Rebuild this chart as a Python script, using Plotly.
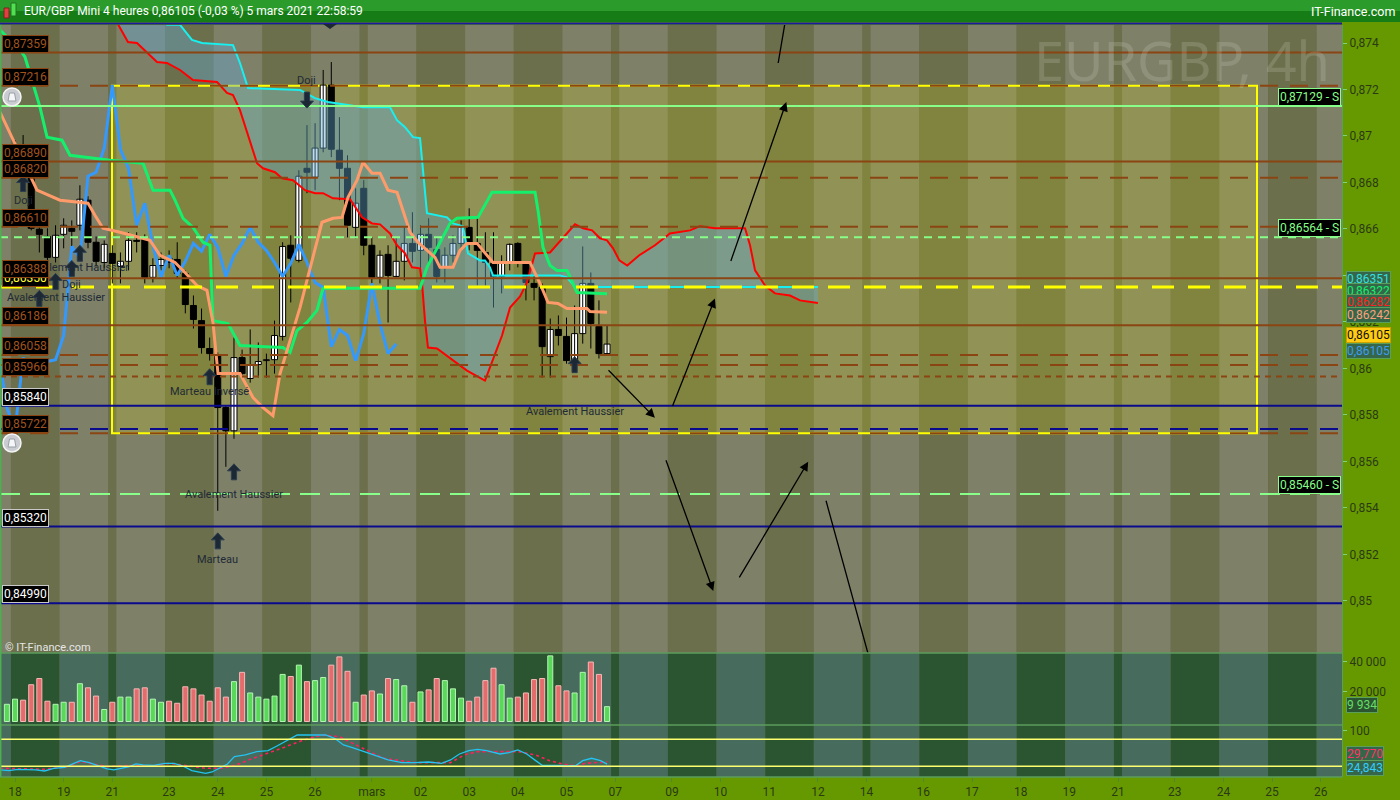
import plotly.graph_objects as go

# ---------------------------------------------------------------- data
bars = list(range(-1, 74))
opens = [0.86896, 0.86917, 0.86896, 0.86823, 0.86599, 0.86568, 0.86478, 0.86577, 0.86603, 0.86616,
         0.86724, 0.86543, 0.86456, 0.86495, 0.86439, 0.86461, 0.86551, 0.86555, 0.86392, 0.86443,
         0.86474, 0.86469, 0.86409, 0.86271, 0.86206, 0.86086, 0.86056, 0.85832, 0.85732, 0.86047,
         0.85957, 0.86017, 0.86034, 0.86038, 0.86138, 0.86530, 0.86465, 0.86861, 0.86823, 0.86948,
         0.87219, 0.86939, 0.86861, 0.86607, 0.86775, 0.86530, 0.86392, 0.86491, 0.86396, 0.86461,
         0.86538, 0.86508, 0.86577, 0.86512, 0.86435, 0.86487, 0.86538, 0.86607, 0.86538, 0.86499,
         0.86452, 0.86396, 0.86456, 0.86538, 0.86452, 0.86366, 0.86349, 0.86051, 0.86168, 0.86138,
         0.86034, 0.86150, 0.86366, 0.86181, 0.86064]
highs = [0.86939, 0.86982, 0.87004, 0.86844, 0.86629, 0.86603, 0.86616, 0.86646, 0.86637, 0.86788,
         0.86741, 0.86568, 0.86551, 0.86530, 0.86499, 0.86586, 0.86586, 0.86577, 0.86474, 0.86499,
         0.86508, 0.86543, 0.86422, 0.86314, 0.86258, 0.86133, 0.86069, 0.85840, 0.86133, 0.86081,
         0.86168, 0.86112, 0.86064, 0.86206, 0.86543, 0.86573, 0.86853, 0.87047, 0.87055, 0.87284,
         0.87318, 0.87081, 0.86917, 0.86775, 0.86810, 0.86564, 0.86508, 0.86530, 0.86564, 0.86607,
         0.86672, 0.86616, 0.86646, 0.86564, 0.86521, 0.86573, 0.86637, 0.86689, 0.86646, 0.86586,
         0.86586, 0.86487, 0.86538, 0.86543, 0.86456, 0.86400, 0.86366, 0.86215, 0.86228, 0.86219,
         0.86271, 0.86525, 0.86413, 0.86293, 0.86185]
lows = [0.86874, 0.86874, 0.86844, 0.86594, 0.86499, 0.86456, 0.86456, 0.86517, 0.86508, 0.86594,
        0.86517, 0.86439, 0.86431, 0.86366, 0.86366, 0.86422, 0.86499, 0.86366, 0.86370, 0.86422,
        0.86431, 0.86387, 0.86237, 0.86172, 0.86064, 0.86034, 0.85388, 0.85577, 0.85698, 0.85961,
        0.85939, 0.85961, 0.85961, 0.85978, 0.86120, 0.86284, 0.86456, 0.86754, 0.86767, 0.86930,
        0.86909, 0.86724, 0.86564, 0.86560, 0.86487, 0.86366, 0.86366, 0.86198, 0.86392, 0.86379,
        0.86456, 0.86422, 0.86456, 0.86370, 0.86370, 0.86456, 0.86508, 0.86508, 0.86357, 0.86357,
        0.86262, 0.86323, 0.86422, 0.86435, 0.86293, 0.86293, 0.85961, 0.85961, 0.86099, 0.86021,
        0.85991, 0.86107, 0.86086, 0.86043, 0.86056]
closes = [0.86917, 0.86961, 0.86892, 0.86603, 0.86577, 0.86478, 0.86573, 0.86616, 0.86590, 0.86728,
          0.86543, 0.86461, 0.86534, 0.86452, 0.86461, 0.86551, 0.86547, 0.86392, 0.86443, 0.86469,
          0.86456, 0.86409, 0.86275, 0.86211, 0.86090, 0.86064, 0.85832, 0.85732, 0.86047, 0.85978,
          0.86017, 0.86030, 0.86038, 0.86142, 0.86525, 0.86474, 0.86827, 0.86844, 0.86948, 0.87219,
          0.86943, 0.86861, 0.86616, 0.86711, 0.86530, 0.86392, 0.86487, 0.86400, 0.86461, 0.86538,
          0.86504, 0.86577, 0.86521, 0.86396, 0.86487, 0.86538, 0.86607, 0.86543, 0.86508, 0.86456,
          0.86396, 0.86452, 0.86534, 0.86456, 0.86370, 0.86349, 0.86094, 0.86168, 0.86142, 0.86034,
          0.86150, 0.86366, 0.86193, 0.86064, 0.86105]
volumes = [11500, 14950, 14260, 24600, 28740, 13560, 11500, 12870, 12870, 25290,
           22530, 17010, 8050, 12870, 16320, 16320, 21840, 22530, 14950, 12870,
           13560, 12190, 23220, 21840, 17700, 13560, 22530, 16320, 26670, 32880,
           19080, 16320, 14950, 17010, 31500, 30120, 37700, 26670, 27360, 29430,
           37700, 43220, 33570, 12870, 17700, 20460, 18390, 28740, 28050, 23910,
           12870, 19770, 21150, 28740, 27360, 21840, 15630, 13560, 16320, 27360,
           35630, 24600, 15630, 16320, 19080, 28050, 28740, 43910, 23910, 20460,
           19080, 32880, 39770, 31500, 9934]

# Ichimoku lines (bar, value)
tenkan_bar = [-1.85, -0.62, 2.71, 5.55, 9.00, 9.86, 10.85, 12.95, 16.65, 17.88, 19.73, 20.96, 22.44,
              23.67, 24.41, 25.03, 27.74, 29.35, 30.58, 31.81, 32.68, 33.91, 35.14, 36.00, 36.74,
              37.85, 39.21, 40.32, 41.06, 42.17, 42.91, 44.02, 45.01, 45.99, 47.10, 48.71, 49.69,
              51.79, 52.40, 54.01, 54.87, 55.73, 56.97, 57.71, 58.94, 63.50, 64.12, 64.73, 65.72,
              66.95, 68.06, 70.53, 70.90, 73.0]
tenkan_val = [0.87103, 0.87012, 0.86767, 0.86724, 0.86711, 0.86659, 0.86603, 0.86586, 0.86551, 0.86487,
              0.86456, 0.86413, 0.86357, 0.86336, 0.86198, 0.85978, 0.85978, 0.85875, 0.85832, 0.85797,
              0.85978, 0.86120, 0.86262, 0.86379, 0.86478, 0.86629, 0.86646, 0.86650, 0.86736, 0.86810,
              0.86887, 0.86840, 0.86840, 0.86767, 0.86758, 0.86586, 0.86543, 0.86478, 0.86435, 0.86435,
              0.86508, 0.86538, 0.86538, 0.86508, 0.86456, 0.86456, 0.86413, 0.86366, 0.86284, 0.86280,
              0.86258, 0.86258, 0.86245, 0.86242]
kijun_bar = [-1.85, 0, 0.62, 1.23, 2.10, 3.08, 3.95, 5.80, 6.78, 11.71, 15.78, 17.02, 19.11, 19.73,
             20.72, 21.95, 23.18, 24.04, 24.41, 26.26, 27.74, 33.05, 33.91, 34.77, 36.00, 37.24, 37.98,
             49.94, 50.80, 52.40, 53.64, 54.50, 57.09, 58.82, 64.12, 64.49, 65.10, 65.97, 66.83, 68.06,
             69.30, 73.0]
kijun_val = [0.87456, 0.87391, 0.87370, 0.87340, 0.87241, 0.87124, 0.86995, 0.86982, 0.86917, 0.86896,
             0.86883, 0.86767, 0.86767, 0.86724, 0.86646, 0.86607, 0.86543, 0.86530, 0.86206, 0.86193,
             0.86099, 0.86090, 0.86069, 0.86163, 0.86198, 0.86250, 0.86345, 0.86345, 0.86435, 0.86538,
             0.86624, 0.86646, 0.86650, 0.86758, 0.86758, 0.86680, 0.86521, 0.86443, 0.86422, 0.86422,
             0.86327, 0.86322]
span_a_bar = [11.71, 12.70, 13.93, 15.04, 16.28, 17.51, 18.74, 20.35, 21.95, 24.91, 26.14, 26.88, 27.74,
              28.61, 29.84, 30.58, 32.06, 32.92, 34.28, 35.76, 36.99, 37.98, 39.21, 41.31, 42.79, 44.02,
              45.01, 46.24, 47.10, 48.09, 48.95, 49.94, 50.18, 50.55, 50.92, 52.03, 54.50, 55.73, 57.95,
              58.94, 60.05, 61.04, 62.27, 63.13, 64.12, 65.97, 68.06, 69.05, 70.04, 71.15, 72.13, 72.99,
              73.74, 74.51, 75.49, 76.97, 78.91, 80.76, 83.23, 84.46, 86.31, 90.01, 90.63, 91.25, 92.48,
              93.71, 95.56, 96.79, 99.0]
span_a_val = [0.87542, 0.87478, 0.87404, 0.87400, 0.87357, 0.87318, 0.87314, 0.87284, 0.87241, 0.87232,
              0.87185, 0.87176, 0.87111, 0.87012, 0.86883, 0.86861, 0.86844, 0.86818, 0.86810, 0.86767,
              0.86754, 0.86754, 0.86732, 0.86728, 0.86650, 0.86624, 0.86620, 0.86581, 0.86530, 0.86495,
              0.86435, 0.86431, 0.86370, 0.86206, 0.86090, 0.86086, 0.86025, 0.85991, 0.85948, 0.86043,
              0.86142, 0.86262, 0.86310, 0.86370, 0.86495, 0.86499, 0.86581, 0.86620, 0.86603, 0.86594,
              0.86560, 0.86551, 0.86517, 0.86465, 0.86443, 0.86487, 0.86530, 0.86581, 0.86594, 0.86612,
              0.86603, 0.86603, 0.86530, 0.86422, 0.86357, 0.86323, 0.86314, 0.86293, 0.86282]
span_b_bar = [17.88, 18.74, 20.35, 21.82, 23.06, 26.88, 27.74, 28.73, 35.14, 36.99, 38.59, 42.91, 46.24,
              47.10, 48.09, 49.08, 49.94, 50.31, 50.80, 53.27, 54.01, 55.24, 55.86, 57.34, 57.95, 58.57,
              58.94, 61.28, 67.20, 68.06, 69.05, 99.0]
span_b_val = [0.87542, 0.87478, 0.87478, 0.87413, 0.87400, 0.87391, 0.87314, 0.87206, 0.87198, 0.87163,
              0.87146, 0.87124, 0.87124, 0.87068, 0.87038, 0.86995, 0.86991, 0.86853, 0.86668, 0.86650,
              0.86624, 0.86612, 0.86495, 0.86465, 0.86465, 0.86435, 0.86400, 0.86400, 0.86400, 0.86392,
              0.86351, 0.86351]
chikou_shift = 26

# oscillator (lower panel)
osc_bar = [-1.85, -0.75, 0.35, 1.45, 2.55, 3.65, 4.76, 6.13, 7.23, 8.06, 9.16, 10.26, 11.36, 12.19,
           13.0, 14.1, 14.9, 15.8, 17.1, 18.5, 19.6, 20.7, 21.8, 23.5, 24.3, 25.1, 26.2, 27.05, 28.4,
           29.8, 31.2, 32.3, 33.7, 34.8, 36.1, 37.2, 38.3, 39.4, 40.5, 41.6, 42.7, 44.4, 46.0, 47.7,
           49.3, 51.0, 52.6, 53.7, 54.8, 55.95, 57.05, 58.15, 59.8, 60.9, 62.0, 63.1, 64.2, 65.0, 67.2,
           68.1, 69.2, 70.0, 71.1, 72.2, 73.0]
osc_val = [11.9, 10.4, 13.3, 13.3, 11.9, 9.6, 15.6, 17.8, 26.7, 32.6, 28.1, 20.7, 14.1, 11.9, 15.6,
           19.3, 25.2, 23.0, 22.2, 26.7, 26.7, 20.7, 10.4, 4.4, 7.4, 15.6, 25.2, 41.5, 45.2, 52.6, 54.8,
           65.2, 78.5, 89.6, 89.6, 90.4, 89.6, 82.2, 67.4, 61.5, 54.1, 44.4, 34.1, 28.1, 28.1, 29.6,
           26.7, 34.1, 47.4, 54.8, 57.8, 54.8, 47.4, 50.4, 56.3, 47.4, 32.6, 22.2, 22.2, 20.7, 22.2,
           32.6, 37.8, 32.6, 24.843]
sig_bar = [-1.85, 3.65, 6.4, 8.06, 9.7, 11.36, 14.7, 16.9, 19.1, 21.3, 23.5, 25.7, 27.9, 29.0, 31.2,
           33.4, 35.6, 37.8, 40.0, 41.6, 43.3, 45.5, 47.7, 49.3, 53.7, 55.4, 57.05, 62.0, 64.2, 65.9,
           67.5, 69.2, 70.3, 71.9, 73.0]
sig_val = [15.6, 13.3, 19.3, 30.4, 25.2, 19.3, 22.2, 20.7, 26.7, 20.7, 15.6, 15.6, 26.7, 35.6, 48.9,
           63.7, 78.5, 89.6, 85.9, 71.1, 56.3, 37.8, 32.6, 28.1, 28.1, 45.2, 52.6, 52.6, 45.2, 32.6,
           25.2, 20.7, 26.7, 28.1, 29.77]
osc_levels = [20, 80]

# calendar (bar index of each day's first 4h bar)
day_starts = [-6, 0, 6, 12, 13, 19, 25, 31, 37, 43, 44, 50, 56, 62, 68, 74, 75, 81, 87, 93, 99,
              105, 106, 112, 118, 124, 130, 136, 137, 143, 149, 155, 161, 167]
tick_bars = [0, 6, 12, 19, 25, 31, 37, 44, 50, 56, 62, 68, 74, 81, 87, 93, 99, 105, 112, 118,
             124, 130, 136, 143, 149, 155, 161]
tick_labels = ['18', '19', '21', '23', '24', '25', '26', 'mars', '02', '03', '04', '05', '07', '09',
               '10', '11', '12', '14', '16', '17', '18', '19', '21', '23', '24', '25', '26']
price_ticks = [0.850, 0.852, 0.854, 0.856, 0.858, 0.860, 0.862, 0.864, 0.866, 0.868, 0.870, 0.872, 0.874]
price_tick_text = ['0,85', '0,852', '0,854', '0,856', '0,858', '0,86', '0,862', '0,864', '0,866',
                   '0,868', '0,87', '0,872', '0,874']

# drawn levels
brown_solid_levels = [0.87359, 0.86890, 0.86388, 0.86186]
brown_dash_levels = [0.87216, 0.86820, 0.86610, 0.86058, 0.86015, 0.85722]
brown_dot_levels = [0.85966]
navy_levels = [0.85840, 0.85320, 0.84990]
navy_dash_levels = [0.85740]
support_levels = [0.87129, 0.86564, 0.85460]
yellow_level = 0.86350
label_levels = [0.87359, 0.87216, 0.86890, 0.86820, 0.86610, 0.86350, 0.86388, 0.86186,
                0.86058, 0.85966, 0.85840, 0.85722, 0.85320, 0.84990]
zone_bars = [11.96, 153.14]
zone_prices = [0.85722, 0.87216]

# projections drawn on the chart
proj_from_bar = [73.0, 81.0, 88.2, 80.2, 89.2]
proj_from_price = [0.85999, 0.85832, 0.86456, 0.85612, 0.85095]
proj_to_bar = [78.9, 86.3, 95.1, 86.1, 97.8]
proj_to_price = [0.85788, 0.86301, 0.87146, 0.85043, 0.85599]
trend_from_bar = [94.1, 100.0]
trend_from_price = [0.87314, 0.85431]
trend_to_bar = [95.3, 105.2]
trend_to_price = [0.87560, 0.84771]

# candlestick pattern markers
pattern_bar = [1, 8, 7, 5, 3, 36, 24, 27, 25, 69]
pattern_price = [0.86830, 0.86530, 0.86465, 0.86409, 0.86336, 0.87120, 0.85999, 0.85590, 0.85293, 0.86051]
pattern_name = ['Doji', 'Avalement Haussier', 'Doji', 'Avalement Haussier', 'Doji', 'Doji',
                'Marteau Inversé', 'Avalement Haussier', 'Marteau', 'Avalement Haussier']
pattern_up = [True, True, True, True, True, False, True, True, True, True]

last_values = {'span_b': 0.86351, 'kijun': 0.86322, 'span_a': 0.86282, 'tenkan': 0.86242,
               'close': 0.86105, 'chikou': 0.86105, 'volume': 9934, 'sig': 29.770, 'osc': 24.843}

# ---------------------------------------------------------------- layout helpers
W, H = 1400, 800
def fx(p): return p / W
def fy(p): return 1 - p / H

X_RANGE = [-1.85, 163.62]
P_RANGE = [0.847763, 0.874774]
V_RANGE = [-2340, 45820]
O_RANGE = [-3.8, 111.8]
PRICE_DOM = [fy(653), fy(25)]
VOL_DOM = [fy(725), fy(653)]
OSC_DOM = [fy(777), fy(725)]
XR = fx(1342)
FONT = 'Roboto'

def fmt(v, d=5):
    return f"{v:.{d}f}".replace('.', ',')

BROWN = '#8b4513'
NAVY = '#0a0a8c'
SUP = '#88ff88'

fig = go.Figure()
shapes = []

# day bands
for k in range(len(day_starts) - 1):
    x0 = max(day_starts[k] - 0.5, X_RANGE[0])
    x1 = min(day_starts[k + 1] - 0.5, X_RANGE[1])
    if x1 <= X_RANGE[0] or x0 >= X_RANGE[1]:
        continue
    light = (k % 2 == 0)
    shapes.append(dict(type='rect', xref='x', yref='paper', x0=x0, x1=x1, y0=PRICE_DOM[0], y1=PRICE_DOM[1],
                       fillcolor='#7e8068' if light else '#6b6f4b', line_width=0, layer='below'))
    shapes.append(dict(type='rect', xref='x', yref='paper', x0=x0, x1=x1, y0=OSC_DOM[0], y1=VOL_DOM[1],
                       fillcolor='#476b5c' if light else '#2b5530', line_width=0, layer='below'))

# yellow zone
shapes.append(dict(type='rect', xref='x', yref='y', x0=zone_bars[0], x1=zone_bars[1],
                   y0=zone_prices[0], y1=zone_prices[1], fillcolor='rgba(235,240,0,0.17)',
                   line=dict(color='#ffff00', width=2), layer='below'))

def hline(level, color, width, dash='solid', yref='y'):
    shapes.append(dict(type='line', xref='paper', yref=yref, x0=0, x1=XR, y0=level, y1=level,
                       line=dict(color=color, width=width, dash=dash), layer='above'))

for lv in brown_solid_levels:
    hline(lv, BROWN, 2)
for lv in brown_dash_levels:
    hline(lv, BROWN, 2, '18px,12px')
for lv in brown_dot_levels:
    hline(lv, BROWN, 2, '6px,5px')
for lv in navy_levels:
    hline(lv, NAVY, 2)
for lv in navy_dash_levels:
    hline(lv, NAVY, 2, '18px,12px')
hline(support_levels[0], SUP, 2)
hline(support_levels[1], SUP, 2, '8px,6px')
hline(support_levels[2], SUP, 2, '20px,10px')
hline(yellow_level, '#ffff00', 3, '22px,14px')
for lv in osc_levels:
    hline(lv, '#ffff70', 1.5, yref='y3')

# trend lines without heads
for a, b, c, d in zip(trend_from_bar, trend_from_price, trend_to_bar, trend_to_price):
    shapes.append(dict(type='line', xref='x', yref='y', x0=a, y0=b, x1=c, y1=d,
                       line=dict(color='black', width=1.3), layer='above'))

# pattern arrows (bold block arrows, sized in pixels, anchored on the data)
ARROW_UP = 'M 0 0 L -6.5 -7 L -2.6 -7 L -2.6 -16 L 2.6 -16 L 2.6 -7 L 6.5 -7 Z'
ARROW_DOWN = 'M 0 0 L -6.5 7 L -2.6 7 L -2.6 16 L 2.6 16 L 2.6 7 L 6.5 7 Z'
for b, p, u in zip(pattern_bar, pattern_price, pattern_up):
    shapes.append(dict(type='path', xref='x', yref='y', xsizemode='pixel', ysizemode='pixel',
                       xanchor=b, yanchor=p, path=ARROW_UP if u else ARROW_DOWN,
                       fillcolor='#1c2833', line=dict(color='#2c3e50', width=1), layer='above'))

# panel frames
for yy in [653, 725, 777]:
    shapes.append(dict(type='line', xref='paper', yref='paper', x0=0, x1=XR, y0=fy(yy), y1=fy(yy),
                       line=dict(color='#5c9c5c', width=1.5), layer='above'))
shapes.append(dict(type='line', xref='paper', yref='paper', x0=0.0005, x1=0.0005, y0=fy(777), y1=fy(23),
                   line=dict(color='#4caf50', width=1.5), layer='above'))
# title bar
shapes.append(dict(type='rect', xref='paper', yref='paper', x0=0, x1=1, y0=fy(11), y1=1,
                   fillcolor='#2b9b2b', line_width=0, layer='above'))
shapes.append(dict(type='rect', xref='paper', yref='paper', x0=0, x1=1, y0=fy(22), y1=fy(11),
                   fillcolor='#167d16', line_width=0, layer='above'))
shapes.append(dict(type='line', xref='paper', yref='paper', x0=0, x1=XR, y0=fy(23.5), y1=fy(23.5),
                   line=dict(color='#1a1aa0', width=2), layer='above'))
shapes.append(dict(type='rect', xref='paper', yref='paper', x0=fx(4), x1=fx(9), y0=fy(18), y1=fy(8),
                   fillcolor='#e04040', line=dict(color='#802020', width=1), layer='above'))
shapes.append(dict(type='rect', xref='paper', yref='paper', x0=fx(11), x1=fx(16), y0=fy(16), y1=fy(3),
                   fillcolor='#50e050', line=dict(color='#207020', width=1), layer='above'))
# top triangle marker
shapes.append(dict(type='path', xref='paper', yref='paper',
                   path=f'M {fx(323)} {fy(24)} L {fx(337)} {fy(24)} L {fx(330)} {fy(29)} Z',
                   fillcolor='#1c2833', line_width=0, layer='above'))
# bell icons
for by in [97, 443]:
    shapes.append(dict(type='circle', xref='paper', yref='paper', x0=fx(3), x1=fx(21), y0=fy(by + 9),
                       y1=fy(by - 9), fillcolor='#c9cdd2', line=dict(color='#f4f4f4', width=1.5),
                       layer='above'))
    shapes.append(dict(type='path', xref='paper', yref='paper',
                       path=f'M {fx(8)} {fy(by + 4)} L {fx(16)} {fy(by + 4)} L {fx(14.5)} {fy(by - 4)} '
                            f'L {fx(9.5)} {fy(by - 4)} Z',
                       fillcolor='#f4f6f8', line=dict(color='#9aa0a6', width=1), layer='above'))

# ---------------------------------------------------------------- traces
up = [c >= o for o, c in zip(opens, closes)]

# candles
wx, wy = [], []
for b, h, l in zip(bars, highs, lows):
    wx += [b, b, None]
    wy += [l, h, None]
fig.add_trace(go.Scatter(x=wx, y=wy, mode='lines', line=dict(color='black', width=1),
                         hoverinfo='skip', yaxis='y'))
fig.add_trace(go.Bar(x=bars, base=[min(o, c) for o, c in zip(opens, closes)],
                     y=[max(abs(c - o), 0.000025) for o, c in zip(opens, closes)],
                     width=0.74, marker=dict(color=['white' if u else 'black' for u in up],
                                             line=dict(color='black', width=1)),
                     yaxis='y', hoverinfo='skip'))

# cloud
fig.add_trace(go.Scatter(x=span_a_bar + span_b_bar[::-1], y=span_a_val + span_b_val[::-1],
                         fill='toself', fillcolor='rgba(100,170,210,0.42)', mode='lines',
                         line=dict(width=0), hoverinfo='skip', yaxis='y'))
fig.add_trace(go.Scatter(x=span_a_bar, y=span_a_val, mode='lines', line=dict(color='#ff0000', width=2),
                         yaxis='y', hoverinfo='skip'))
fig.add_trace(go.Scatter(x=span_b_bar, y=span_b_val, mode='lines', line=dict(color='#18f0f0', width=2),
                         yaxis='y', hoverinfo='skip'))
# chikou
fig.add_trace(go.Scatter(x=[b - chikou_shift for b in bars], y=closes, mode='lines',
                         line=dict(color='#3399ff', width=3), yaxis='y', hoverinfo='skip'))
# kijun
fig.add_trace(go.Scatter(x=kijun_bar, y=kijun_val, mode='lines', line=dict(color='#14f06c', width=3),
                         yaxis='y', hoverinfo='skip'))
# tenkan
fig.add_trace(go.Scatter(x=tenkan_bar, y=tenkan_val, mode='lines', line=dict(color='#ff9b6a', width=3),
                         yaxis='y', hoverinfo='skip'))

# volume
fig.add_trace(go.Bar(x=bars, y=volumes, width=0.62, yaxis='y2', hoverinfo='skip',
                     marker=dict(color=['#5ad85a' if u else '#e46c6c' for u in up],
                                 line=dict(color=['#b4f5b4' if u else '#f7b9b9' for u in up], width=1))))

# oscillator
fig.add_trace(go.Scatter(x=sig_bar, y=sig_val, mode='lines', line=dict(color='#ff1f5f', width=1.6, dash='dot'),
                         yaxis='y3', hoverinfo='skip'))
fig.add_trace(go.Scatter(x=osc_bar, y=osc_val, mode='lines', line=dict(color='#22c4f4', width=1.3),
                         yaxis='y3', hoverinfo='skip'))

# ---------------------------------------------------------------- annotations
ann = []
# projection arrows
for a, b, c, d in zip(proj_from_bar, proj_from_price, proj_to_bar, proj_to_price):
    ann.append(dict(x=c, y=d, ax=a, ay=b, xref='x', yref='y', axref='x', ayref='y', text='',
                    showarrow=True, arrowhead=2, arrowsize=1.4, arrowwidth=1.3, arrowcolor='black'))

# pattern labels
label_gap = [25, 22, 24, 24, 23, -28, 23, 31, 27, 55]
for b, p, name, g in zip(pattern_bar, pattern_price, pattern_name, label_gap):
    ann.append(dict(x=b, y=p, xref='x', yref='y', text=name, showarrow=False, yshift=-g,
                    font=dict(family=FONT, size=11, color='#1f2a36')))

# left level labels
for lv in label_levels:
    if lv in navy_levels:
        tc, bc = '#ffffff', '#c8c8c8'
    elif abs(lv - yellow_level) < 1e-9:
        tc, bc = '#ffff33', BROWN
    else:
        tc, bc = '#a2531c', BROWN
    ann.append(dict(x=fx(2), xref='paper', xanchor='left', y=lv, yref='y', yanchor='bottom',
                    text=fmt(lv), showarrow=False, font=dict(family=FONT, size=12, color=tc),
                    bgcolor='black', bordercolor=bc, borderwidth=1, borderpad=1))

# support labels on the right
for lv in support_levels:
    ann.append(dict(x=fx(1341), xref='paper', xanchor='right', y=lv, yref='y', yanchor='bottom',
                    text=fmt(lv) + ' - S', showarrow=False, font=dict(family=FONT, size=12, color=SUP),
                    bgcolor='black', bordercolor=SUP, borderwidth=1, borderpad=1))

# right axis value boxes
def vbox(text, center_px, color, bg='#35664a', border='#5aa05a'):
    ann.append(dict(x=fx(1346), xref='paper', xanchor='left', y=fy(center_px), yref='paper',
                    yanchor='middle', text=text, showarrow=False,
                    font=dict(family=FONT, size=12, color=color), bgcolor=bg, bordercolor=border,
                    borderwidth=1, borderpad=0))

vbox(fmt(last_values['span_b']), 279, '#33e0e0')
vbox(fmt(last_values['kijun']), 291, '#14f06c')
vbox(fmt(last_values['span_a']), 302, '#ff2020')
vbox(fmt(last_values['tenkan']), 315, '#ffa07a')
vbox(fmt(last_values['close']), 335, '#111111', bg='#ffcc11', border='#c9a000')
vbox(fmt(last_values['chikou']), 351, '#3d9bf0')
vbox(f"{last_values['volume']:,}".replace(',', ' '), 705, '#66dd66', bg='#2b5530')
vbox(fmt(last_values['sig'], 3), 754, '#ff3366')
vbox(fmt(last_values['osc'], 3), 768, '#33ccff')

# texts
ann.append(dict(x=fx(1332), xref='paper', xanchor='right', y=fy(60), yref='paper', yanchor='middle',
                text='EURGBP, 4h', showarrow=False,
                font=dict(family='Noto Sans', size=54, color='rgba(215,215,200,0.20)')))
ann.append(dict(x=fx(22), xref='paper', xanchor='left', y=fy(11), yref='paper', yanchor='middle',
                text='EUR/GBP Mini 4 heures 0,86105 (-0,03 %) 5 mars 2021 22:58:59', showarrow=False,
                font=dict(family=FONT, size=12, color='white')))
ann.append(dict(x=fx(1397), xref='paper', xanchor='right', y=fy(11), yref='paper', yanchor='middle',
                text='IT-Finance.com', showarrow=False, font=dict(family=FONT, size=12.5, color='white')))
ann.append(dict(x=fx(3), xref='paper', xanchor='left', y=fy(647), yref='paper', yanchor='middle',
                text='© IT-Finance.com', showarrow=False, font=dict(family=FONT, size=11, color='#e6e6e6')))

tickfont = dict(family=FONT, size=12, color='#2b3a12')
fig.update_layout(
    width=W, height=H, autosize=False, margin=dict(l=0, r=0, t=0, b=0),
    paper_bgcolor='#669900', plot_bgcolor='#6b6f4b', showlegend=False, barmode='overlay',
    shapes=shapes, annotations=ann,
    xaxis=dict(domain=[0, XR], range=X_RANGE, anchor='y3', tickvals=tick_bars, ticktext=tick_labels,
               ticks='outside', ticklen=4, tickcolor='#4f8a2f', tickfont=tickfont, showgrid=False,
               zeroline=False, showline=False, fixedrange=True),
    yaxis=dict(domain=PRICE_DOM, range=P_RANGE, side='right', anchor='x', tickvals=price_ticks,
               ticktext=price_tick_text, ticks='outside', ticklen=4, tickcolor='#7fd07f',
               tickfont=tickfont, showgrid=False, zeroline=False, showline=True, linecolor='#5aa05a'),
    yaxis2=dict(domain=VOL_DOM, range=V_RANGE, side='right', anchor='x', tickvals=[20000, 40000],
                ticktext=['20 000', '40 000'], ticks='outside', ticklen=4, tickcolor='#7fd07f',
                tickfont=tickfont, showgrid=False, zeroline=False, showline=True, linecolor='#5aa05a'),
    yaxis3=dict(domain=OSC_DOM, range=O_RANGE, side='right', anchor='x', tickvals=[100], ticktext=['100'],
                ticks='outside', ticklen=4, tickcolor='#7fd07f', tickfont=tickfont, showgrid=False,
                zeroline=False, showline=True, linecolor='#5aa05a'),
)

fig.write_html('out.html', config={'displayModeBar': False},
               post_script="document.body.style.margin='0';document.body.style.padding='0';"
                           "document.body.style.overflow='hidden';")
